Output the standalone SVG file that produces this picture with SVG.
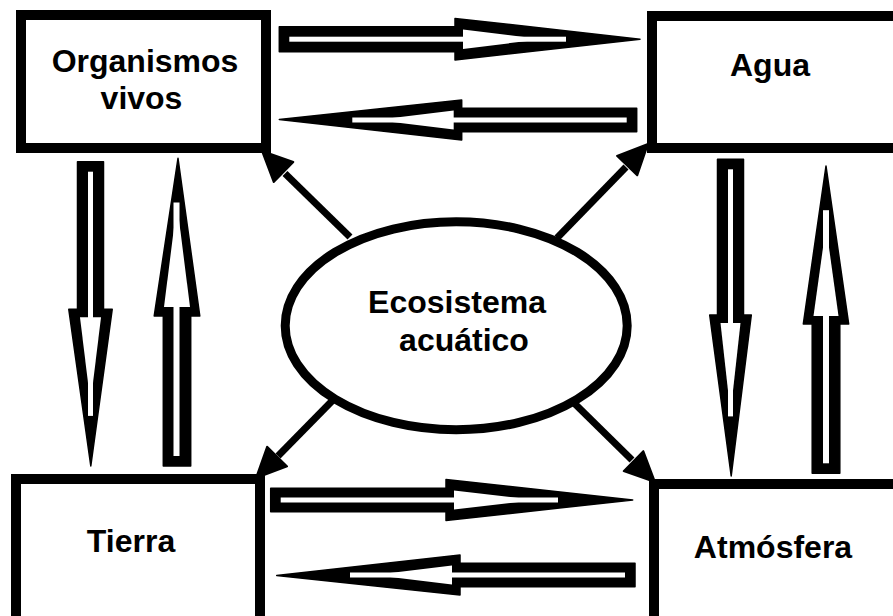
<svg xmlns="http://www.w3.org/2000/svg" width="893" height="616" viewBox="0 0 893 616">
<style>
.box{fill:#fff;stroke:#000;stroke-width:10}
.lbl{font-family:"Liberation Sans",Arial,sans-serif;font-weight:bold;font-size:32px;fill:#000;text-anchor:middle}
.blk{fill:#000;stroke:#000;stroke-width:1.5;stroke-linejoin:round}
.inn{fill:#fff}
.thin{stroke:#000;stroke-width:7;fill:none}
.head{fill:#000;stroke:#000;stroke-width:2;stroke-linejoin:round}
</style>
<rect width="893" height="616" fill="#fff"/>
<g id="organismos">
<rect class="box" x="21" y="15" width="245" height="133"/>
<text class="lbl" x="145" y="72">Organismos</text>
<text class="lbl" x="141.5" y="109">vivos</text>
</g>
<g id="agua">
<rect class="box" x="652" y="16" width="250" height="132"/>
<text class="lbl" x="770" y="76">Agua</text>
</g>
<g id="tierra">
<rect class="box" x="16" y="479" width="244" height="150"/>
<text class="lbl" x="131" y="552">Tierra</text>
</g>
<g id="atmosfera">
<rect class="box" x="654" y="484" width="250" height="150"/>
<text class="lbl" x="773" y="558">Atmósfera</text>
</g>
<g id="connectors">
<!-- Organismos -> Agua -->
<g>
<polygon class="blk" points="279.3,26.7 455,26.7 455,18.4 640,39.2 455,60 455,51.7 279.3,51.7"/>
<rect class="inn" x="289.3" y="36.7" width="276.7" height="5"/>
<polygon class="inn" points="463,29.5 542,39.2 463,48.9"/>
</g>
<!-- Agua -> Organismos -->
<g>
<polygon class="blk" points="636.7,108.3 461.7,108.3 461.7,100 279.3,119.5 461.7,140 461.7,131.7 636.7,131.7"/>
<rect class="inn" x="352.3" y="117.5" width="274.4" height="5"/>
<polygon class="inn" points="453.7,110.5 376,120 453.7,129.5"/>
</g>
<!-- Tierra -> Atmosfera -->
<g>
<polygon class="blk" points="270.7,488.3 446,488.3 446,479.6 632.7,500 446,520.4 446,511.7 270.7,511.7"/>
<rect class="inn" x="280.7" y="497.5" width="277.3" height="5"/>
<polygon class="inn" points="454,490.5 535.6,500 454,509.5"/>
</g>
<!-- Atmosfera -> Tierra -->
<g>
<polygon class="blk" points="635,563.3 460,563.3 460,555 276.7,575.5 460,595 460,586.7 635,586.7"/>
<rect class="inn" x="350" y="572.5" width="275" height="5"/>
<polygon class="inn" points="452,565.5 373.8,575 452,584.5"/>
</g>
<!-- Organismos -> Tierra -->
<g>
<polygon class="blk" points="77.5,161.7 77.5,309.3 68.8,309.3 90.8,466 112.2,309.3 103.5,309.3 103.5,161.7"/>
<rect class="inn" x="88" y="171.7" width="5" height="244.2"/>
<polygon class="inn" points="80,317.3 90.5,403.3 101,317.3"/>
</g>
<!-- Tierra -> Organismos -->
<g>
<polygon class="blk" points="163.3,466 163.3,316 154.2,316 178,158.3 199.8,316 190.7,316 190.7,466"/>
<rect class="inn" x="173.5" y="202.5" width="6" height="253.5"/>
<polygon class="inn" points="164,307 177,204 190,307"/>
</g>
<!-- Agua -> Atmosfera -->
<g>
<polygon class="blk" points="717.5,159.3 717.5,315 709.7,315 731.2,476 751.3,315 743.5,315 743.5,159.3"/>
<rect class="inn" x="728" y="169.3" width="5" height="247.1"/>
<polygon class="inn" points="720.5,323 730.5,413.2 740.5,323"/>
</g>
<!-- Atmosfera -> Agua -->
<g>
<polygon class="blk" points="812.2,473.3 812.2,324 803.3,324 826,166 848.7,324 839.8,324 839.8,473.3"/>
<rect class="inn" x="823" y="210.2" width="6" height="253.1"/>
<polygon class="inn" points="813.5,316 826,226 838.5,316"/>
</g>
<!-- thin diagonal arrows -->
<line class="thin" x1="350" y1="237" x2="285" y2="173.5"/>
<polygon class="head" points="262,151 293.3,162 273.7,182"/>
<line class="thin" x1="557" y1="238" x2="626" y2="167"/>
<polygon class="head" points="648,144 637.2,175.3 617,155.9"/>
<line class="thin" x1="333" y1="400" x2="278" y2="456"/>
<polygon class="head" points="256,478 287.1,466.4 267.1,446.8"/>
<line class="thin" x1="573" y1="402" x2="632" y2="460"/>
<polygon class="head" points="655,482 623.7,471.1 643.3,451.1"/>
</g>
<g id="ecosistema">
<ellipse cx="456.2" cy="325.7" rx="171" ry="104" fill="#fff" stroke="#000" stroke-width="9"/>
<text class="lbl" x="457" y="313">Ecosistema</text>
<text class="lbl" x="464" y="351">acuático</text>
</g>
</svg>
